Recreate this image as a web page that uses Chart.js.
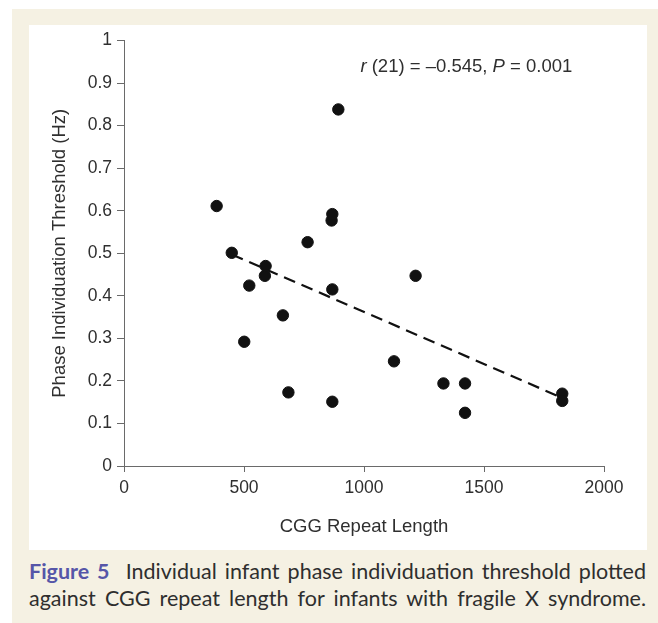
<!DOCTYPE html>
<html>
<head>
<meta charset="utf-8">
<script src="https://cdn.jsdelivr.net/npm/chart.js@4"></script>
<style>
  html, body { margin: 0; padding: 0; background: #ffffff; width: 658px; height: 623px; overflow: hidden; }
  #beige { position: absolute; left: 12px; top: 9px; width: 646px; height: 614px; background: #f5f1e3; }
  #panel { position: absolute; left: 29px; top: 25px; width: 618px; height: 525px; background: #ffffff; }
  #caption { position: absolute; left: 29px; top: 558px; width: 617px; font-family: Lato, "Noto Sans", sans-serif; font-size: 21.5px; line-height: 27px; color: #2e2e2e; }
  #caption div { text-align: justify; text-align-last: justify; white-space: nowrap; }
  #caption b { color: #5656a8; font-weight: 700; }
</style>
</head>
<body>
<div id="beige"></div>
<div id="panel"><canvas id="c" width="618" height="525"></canvas></div>
<div id="caption">
  <div><b>Figure 5</b>&nbsp; Individual infant phase individuation threshold plotted</div>
  <div>against CGG repeat length for infants with fragile X syndrome.</div>
</div>
<script>
// CGG repeat length (x) and phase individuation threshold in Hz (y)
const cggLength = [386, 449, 501, 522, 587, 590, 662, 685, 765, 865, 868, 868, 868, 893, 1125, 1215, 1331, 1421, 1421, 1826, 1826];
const threshold = [0.611, 0.501, 0.292, 0.424, 0.447, 0.470, 0.354, 0.173, 0.526, 0.577, 0.592, 0.415, 0.151, 0.838, 0.246, 0.447, 0.194, 0.194, 0.125, 0.170, 0.153];
// Regression line end points
const fitX = [449, 1826];
const fitY = [0.497, 0.160];
// Axis ticks
const xTicks = [0, 500, 1000, 1500, 2000];
const yTicks = [0, 0.1, 0.2, 0.3, 0.4, 0.5, 0.6, 0.7, 0.8, 0.9, 1];
const statsText = { r: 'r', rRest: ' (21) = \u20130.545, ', p: 'P', pRest: ' = 0.001' };

const points = cggLength.map((x, i) => ({ x: x, y: threshold[i] }));
const fitPoints = fitX.map((x, i) => ({ x: x, y: fitY[i] }));

const axisColor = '#6a6a6a';
const textColor = '#2f2f2f';
const fontFamily = '"Liberation Sans", Arial, sans-serif';

const statsPlugin = {
  id: 'stats',
  afterDraw(chart) {
    const ctx = chart.ctx;
    const xs = chart.scales.x, ys = chart.scales.y;
    let px = xs.getPixelForValue(985);
    const py = ys.getPixelForValue(0.937);
    ctx.save();
    ctx.fillStyle = textColor;
    ctx.textBaseline = 'middle';
    ctx.textAlign = 'left';
    const parts = [
      [statsText.r, 'italic'], [statsText.rRest, 'normal'],
      [statsText.p, 'italic'], [statsText.pRest, 'normal']
    ];
    for (const [t, st] of parts) {
      ctx.font = st + ' 18.5px ' + fontFamily;
      ctx.fillText(t, px, py);
      px += ctx.measureText(t).width;
    }
    ctx.restore();
  }
};

new Chart(document.getElementById('c'), {
  type: 'scatter',
  data: {
    datasets: [
      {
        data: points,
        backgroundColor: '#111111',
        borderColor: '#111111',
        pointRadius: 5.7,
        pointHoverRadius: 5.7,
        order: 1
      },
      {
        type: 'line',
        data: fitPoints,
        borderColor: '#111111',
        borderWidth: 2.2,
        borderDash: [12, 7],
        pointRadius: 0,
        fill: false,
        showLine: true,
        order: 2
      }
    ]
  },
  options: {
    responsive: false,
    animation: false,
    devicePixelRatio: 1,
    layout: { padding: { left: 0, right: 43, top: 0, bottom: 3 } },
    plugins: { legend: { display: false }, tooltip: { enabled: false } },
    scales: {
      x: {
        type: 'linear',
        min: 0, max: 2000,
        afterBuildTicks(s) { s.ticks = xTicks.map(v => ({ value: v })); },
        afterFit(s) { s.height = 81; },
        border: { display: true, color: axisColor, width: 1 },
        grid: { drawOnChartArea: false, drawTicks: true, tickLength: 6, color: axisColor, tickColor: axisColor },
        ticks: { color: textColor, font: { family: fontFamily, size: 17.5 }, padding: 6, maxRotation: 0,
          callback: v => String(v) },
        title: { display: true, text: 'CGG Repeat Length', color: textColor, font: { family: fontFamily, size: 18.5 }, padding: { top: 9, bottom: 9 } }
      },
      y: {
        type: 'linear',
        min: 0, max: 1,
        afterBuildTicks(s) { s.ticks = yTicks.map(v => ({ value: v })); },
        afterFit(s) { s.width = 95; },
        border: { display: true, color: axisColor, width: 1 },
        grid: { drawOnChartArea: false, drawTicks: true, tickLength: 7, color: axisColor, tickColor: axisColor },
        ticks: { color: textColor, font: { family: fontFamily, size: 17.5 }, padding: 5,
          callback: v => (v === 0 || v === 1) ? String(v) : v.toFixed(1) },
        title: { display: true, text: 'Phase Individuation Threshold (Hz)', color: textColor, font: { family: fontFamily, size: 18.5 }, padding: { top: 20, bottom: 20 } }
      }
    }
  },
  plugins: [statsPlugin]
});
</script>
</body>
</html>
